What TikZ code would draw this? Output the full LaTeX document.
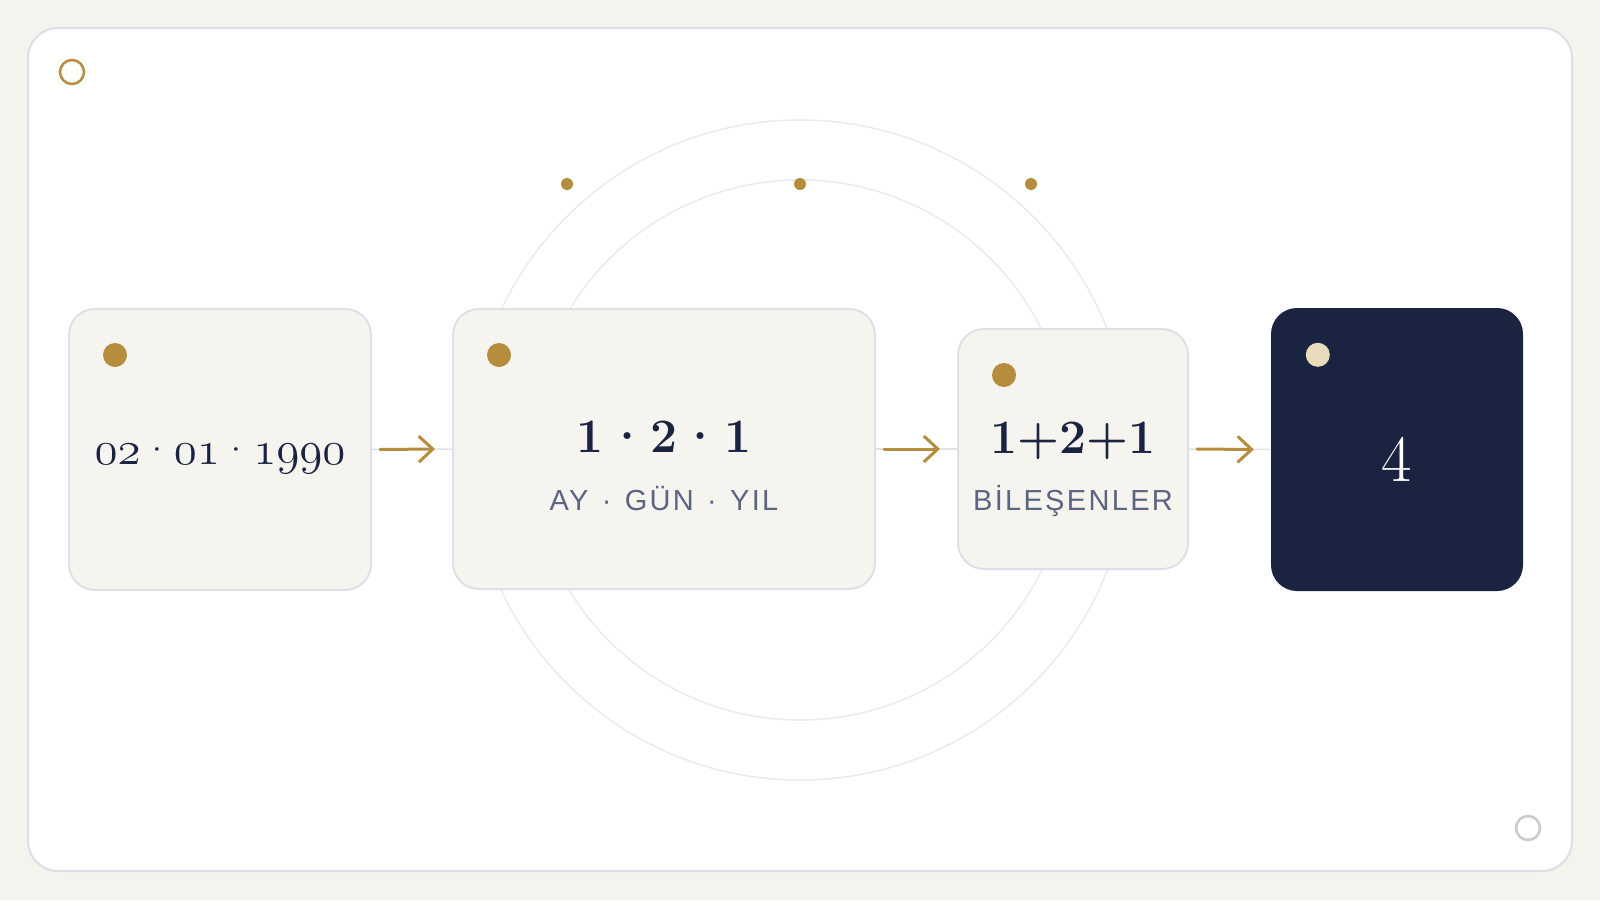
\documentclass[tikz,border=0pt]{standalone}
\usepackage{fontspec}
\newfontfamily\labelfont[LetterSpace=8]{Liberation Sans}
\usetikzlibrary{arrows.meta,calc}
\definecolor{bgc}{HTML}{F4F4EE}
\definecolor{panelb}{HTML}{DEDFE6}
\definecolor{gold}{HTML}{B58D3D}
\definecolor{boxfill}{HTML}{F5F4EF}
\definecolor{boxline}{HTML}{DEE0E8}
\definecolor{navy}{HTML}{1A2340}
\definecolor{slate}{HTML}{5B6580}
\definecolor{ring}{HTML}{EBEBEE}
\definecolor{cream}{HTML}{E8DCBD}
\definecolor{greyring}{HTML}{C9C9CE}
\definecolor{linkgrey}{HTML}{E2E2E6}
\font\myosfont=cmmi12 at 47pt
\newcommand\osn[1]{{\myosfont #1}}
\begin{document}
\begin{tikzpicture}[x=1pt,y=-1pt,
  card/.style={draw=boxline,line width=2pt,fill=boxfill,rounded corners=26pt,inner sep=0pt},
  darkcard/.style={fill=navy,rounded corners=26pt,inner sep=0pt},
  pin/.style={circle,fill=gold,minimum size=24pt,inner sep=0pt},
  tinypin/.style={circle,fill=gold,minimum size=12pt,inner sep=0pt},
  link/.style={draw=linkgrey,line width=1.5pt},
  flow/.style={draw=gold,line width=3pt,line cap=round,line join=round,-{Straight Barb[length=14pt,width=26pt]}},
  bignum/.style={anchor=base,text=navy,font=\fontsize{48}{56}\selectfont\bfseries},
  sublabel/.style={anchor=base,text=slate,font=\fontsize{29}{34}\selectfont\labelfont}]
\useasboundingbox (0,0) rectangle (1600,900);
\fill[bgc] (0,0) rectangle (1600,900);
\draw[fill=white,draw=panelb,line width=2pt,rounded corners=30pt] (28,28) rectangle (1572,871);
% decorative rings
\draw[ring,line width=1.5pt] (800,450) circle[radius=330];
\draw[ring,line width=1.5pt] (800,450) circle[radius=270];
\node[tinypin] (d1) at (567,184) {};
\node[tinypin] (d2) at (800,184) {};
\node[tinypin] (d3) at (1031,184) {};
% corner marks
\draw[gold,line width=2.5pt] (72,72) circle[radius=12];
\draw[greyring,line width=2.5pt] (1528,828) circle[radius=12];
% cards
\node[card,minimum width=302pt,minimum height=281pt] (b1) at (220,449.5) {};
\node[card,minimum width=422pt,minimum height=280pt] (b2) at (664,449) {};
\node[card,minimum width=230pt,minimum height=240pt] (b3) at (1073,449) {};
\node[darkcard,minimum width=252pt,minimum height=283pt] (b4) at (1397,449.5) {};
% pins
\node[pin] (p1) at ($(b1.north west)+(47,47)$) {};
\node[pin] (p2) at ($(b2.north west)+(47,47)$) {};
\node[pin] (p3) at ($(b3.north west)+(47,47)$) {};
\node[pin,fill=cream] (p4) at ($(b4.north west)+(47,47)$) {};
% texts
\node[anchor=base,text=navy,font=\fontsize{44}{50}\selectfont] (t1) at (220,464)
  {\osn{02}\hspace{.02em}·\hspace{.02em}\osn{01}\hspace{.02em}·\hspace{.02em}\osn{1990}};
\node[bignum] (t2) at (664,452) {1\hspace{.05em}·\hspace{.05em}2\hspace{.05em}·\hspace{.05em}1};
\node[sublabel] (s2) at (664,510) {AY \kern.1em· \kern.1emGÜN \kern.1em· \kern.1emYIL};
\node[bignum] (t3) at (1073,453) {1+2+1};
\node[sublabel] (s3) at (1073,510) {BİLEŞENLER};
\node[anchor=base,text=white,font=\fontsize{66}{72}\selectfont] (t4) at (1397,481) {4};
% connectors
\draw[link] (b1.east) -- (b2.west);
\draw[link] (b2.east) -- (b3.west);
\draw[link] (b3.east) -- (b4.west);
\draw[flow] ([xshift=8pt]b1.east) -- ([xshift=-17pt]b2.west);
\draw[flow] ([xshift=8pt]b2.east) -- ([xshift=-17pt]b3.west);
\draw[flow] ([xshift=8pt]b3.east) -- ([xshift=-17pt]b4.west);
\end{tikzpicture}
\end{document}
